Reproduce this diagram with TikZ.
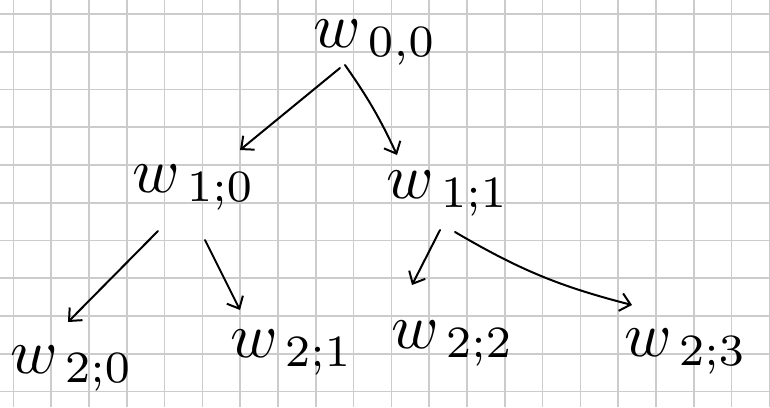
\documentclass[tikz,border=0pt]{standalone}
\usepackage{amsmath}
\usepackage{graphicx}
\usetikzlibrary{arrows.meta}

\newcommand{\wlabel}[1]{\scalebox{6.4}{$w_{\,#1}$}}

\begin{document}
\begin{tikzpicture}[
        x=1pt, y=-1pt,
        gridline/.style={draw=black!20, line width=1.6pt},
        weight/.style={inner sep=0pt, anchor=base west},
        edge/.style={-{Straight Barb[length=10pt, width=18pt]}, line width=2pt, line cap=round}
    ]
        \useasboundingbox (0,0) rectangle (770,407);
        \fill[white] (0,0) rectangle (770,407);

        % Grid
        \foreach \i in {0,...,20}
            \draw[gridline] (13.3+37.8*\i,0) -- (13.3+37.8*\i,407);
        \foreach \j in {0,...,10}
            \draw[gridline] (0,14+37.75*\j) -- (770,14+37.75*\j);

        % Nodes
        \node[weight] (w00) at (313,47) {\wlabel{0,0}};
        \node[weight] (w10) at (132,192) {\wlabel{1;0}};
        \node[weight] (w11) at (386,198) {\wlabel{1;1}};
        \node[weight] (w20) at (10,373) {\wlabel{2;0}};
        \node[weight] (w21) at (230,357) {\wlabel{2;1}};
        \node[weight] (w22) at (391,348) {\wlabel{2;2}};
        \node[weight] (w23) at (624,356) {\wlabel{2;3}};

        % Edges
        \draw[edge] ([shift={(27,21)}]w00.base west) -- ([shift={(108,-42)}]w10.base west);
        \draw[edge] ([shift={(32,18)}]w00.base west) to[bend left=5] ([shift={(11,-43)}]w11.base west);
        \draw[edge] ([shift={(26,39)}]w10.base west) -- ([shift={(58,-51)}]w20.base west);
        \draw[edge] ([shift={(73,48)}]w10.base west) -- ([shift={(10,-47)}]w21.base west);
        \draw[edge] ([shift={(54,32)}]w11.base west) -- ([shift={(21,-63)}]w22.base west);
        \draw[edge] ([shift={(69,34)}]w11.base west) to[bend right=8] ([shift={(8,-51)}]w23.base west);
    \end{tikzpicture}
\end{document}
